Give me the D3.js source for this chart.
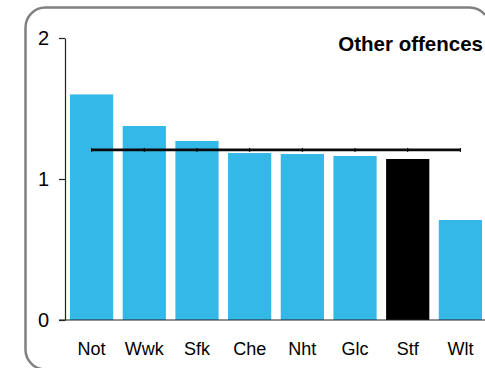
<!DOCTYPE html>
<html>
<head>
<meta charset="utf-8">
<script src="https://cdn.jsdelivr.net/npm/d3@7"></script>
<style>
  html, body { margin: 0; padding: 0; background: #fff; overflow: hidden; }
  svg { display: block; }
  text { font-family: "Liberation Sans", Arial, Helvetica, sans-serif; }
</style>
</head>
<body>
<svg id="chart" width="485" height="368"></svg>
<script>
const categories = ["Not", "Wwk", "Sfk", "Che", "Nht", "Glc", "Stf", "Wlt"];
const values = [1.60, 1.376, 1.27, 1.184, 1.177, 1.163, 1.142, 0.709];
const highlight = ["Stf"];
const averageValue = 1.206;
const yTicks = [0, 1, 2];
const title = "Other offences";

const W = 485;
const svg = d3.select("#chart");

// rounded frame, clipped by the window on the right and bottom
const fx0 = 25.5, fy0 = 7.5, fy1 = 369.5, r = 20;
const cxR = 469.5, cyR = fy0 + r;
const aStart = Math.atan2(-Math.sqrt(r * r - (W - cxR) ** 2), W - cxR);
const frame = d3.path();
frame.moveTo(W, cyR - Math.sqrt(r * r - (W - cxR) ** 2));
frame.arc(cxR, cyR, r, aStart, -Math.PI / 2, true);
frame.lineTo(fx0 + r, fy0);
frame.arcTo(fx0, fy0, fx0, fy0 + r, r);
frame.lineTo(fx0, fy1 - r);
frame.arcTo(fx0, fy1, fx0 + r, fy1, r);
frame.lineTo(W, fy1);
svg.append("path")
  .attr("d", frame.toString())
  .attr("fill", "none")
  .attr("stroke", "#808080")
  .attr("stroke-width", 2.5);

const x = d3.scaleBand()
  .domain(categories)
  .range([65, 487])
  .paddingInner(0.18)
  .paddingOuter(0.095);

const y = d3.scaleLinear()
  .domain([0, 2])
  .range([320, 38]);

// bars
svg.append("g").selectAll("rect")
  .data(categories)
  .join("rect")
  .attr("x", d => x(d))
  .attr("y", (d, i) => y(values[i]))
  .attr("width", x.bandwidth())
  .attr("height", (d, i) => y(0) - y(values[i]))
  .attr("fill", d => highlight.includes(d) ? "#000000" : "#34b8e8");

// average line
const line = d3.line()
  .x(d => x(d) + x.bandwidth() / 2)
  .y(() => y(averageValue));
svg.append("path")
  .datum(categories)
  .attr("d", line)
  .attr("fill", "none")
  .attr("stroke", "#0a0a0a")
  .attr("stroke-width", 2.8);
svg.append("g").selectAll("line")
  .data(categories)
  .join("line")
  .attr("x1", d => x(d) + x.bandwidth() / 2)
  .attr("x2", d => x(d) + x.bandwidth() / 2)
  .attr("y1", y(averageValue) - 2)
  .attr("y2", y(averageValue) + 2)
  .attr("stroke", "#000")
  .attr("stroke-width", 1);

// y axis
const yAxis = svg.append("g")
  .attr("transform", "translate(65,0)")
  .call(d3.axisLeft(y).tickValues(yTicks).tickFormat(d3.format("d")).tickSize(6).tickSizeOuter(0).tickPadding(10));
yAxis.select(".domain").attr("stroke", "#222").attr("stroke-width", 1.2);
yAxis.selectAll(".tick line").attr("stroke", "#222").attr("stroke-width", 1.2);
yAxis.selectAll(".tick text").attr("font-size", 20).attr("fill", "#000")
  .attr("font-family", "'Liberation Sans', Arial, sans-serif");

// x axis
const xAxis = svg.append("g")
  .attr("transform", "translate(0,320)")
  .call(d3.axisBottom(x).tickSize(0).tickSizeOuter(0).tickPadding(22));
xAxis.select(".domain").attr("d", "M59,0H485").attr("stroke", "#222").attr("stroke-width", 1.2);
xAxis.selectAll(".tick text").attr("font-size", 18).attr("fill", "#000")
  .attr("font-family", "'Liberation Sans', Arial, sans-serif");

// title
svg.append("text")
  .attr("x", 483).attr("y", 51)
  .attr("text-anchor", "end")
  .attr("font-size", 20.5)
  .attr("font-weight", "bold")
  .attr("fill", "#000")
  .text(title);
</script>
</body>
</html>
